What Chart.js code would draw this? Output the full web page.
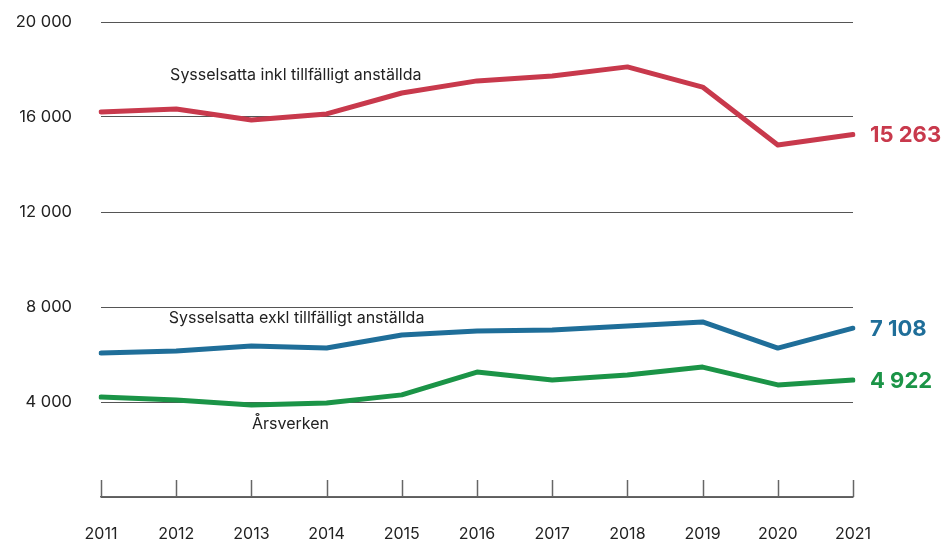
<!DOCTYPE html>
<html><head><meta charset="utf-8">
<script src="https://cdn.jsdelivr.net/npm/chart.js@4/dist/chart.umd.min.js"></script>
<style>html,body{margin:0;padding:0;background:#fff}#wrap{width:943px;height:542px}</style>
</head><body><div id="wrap"><canvas id="c" width="943" height="542"></canvas></div>
<script>
const years = ['2011','2012','2013','2014','2015','2016','2017','2018','2019','2020','2021'];
const inkl = [16210,16340,15870,16130,17010,17520,17730,18110,17260,14820,15263];
const exkl = [6060,6150,6360,6270,6820,6990,7030,7200,7370,6270,7108];
const arsverken = [4210,4080,3870,3960,4300,5260,4930,5140,5470,4720,4922];
const seriesNames = ['Sysselsatta inkl tillfälligt anställda','Sysselsatta exkl tillfälligt anställda','Årsverken'];
const endLabels = ['15 263','7 108','4 922'];
const colors = ['#c8394c','#1f6e99','#1b9447'];
const FONT = 'Inter, "Noto Sans", sans-serif';

const fmt = v => String(v).replace(/\B(?=(\d{3})+(?!\d))/g, ' ');

const labelPlugin = {
  id: 'labels',
  afterDatasetsDraw(chart) {
    const ctx = chart.ctx, x = chart.scales.x, y = chart.scales.y;
    ctx.save();
    ctx.strokeStyle = '#666'; ctx.lineWidth = 1.5;
    const base = y.getPixelForValue(0);
    years.forEach((_, i) => {
      const px = Math.round(x.getPixelForValue(i)) + 0.5;
      ctx.beginPath(); ctx.moveTo(px, base); ctx.lineTo(px, base - 17); ctx.stroke();
    });
    ctx.fillStyle = '#222';
    ctx.font = '16px ' + FONT;
    ctx.textAlign = 'center'; ctx.textBaseline = 'middle';
    const anchors = [[2.59, 17770], [2.6, 7540], [2.52, 3070]];
    seriesNames.forEach((n, i) => {
      ctx.fillText(n, x.getPixelForValue(anchors[i][0]), y.getPixelForValue(anchors[i][1]));
    });
    ctx.textAlign = 'left';
    ctx.font = 'bold 22px ' + FONT;
    chart.data.datasets.forEach((ds, i) => {
      const last = ds.data.length - 1;
      ctx.fillStyle = colors[i];
      ctx.fillText(endLabels[i], x.getPixelForValue(last) + 17, y.getPixelForValue(ds.data[last]) + 1);
    });
    ctx.restore();
  }
};

new Chart(document.getElementById('c'), {
  type: 'line',
  data: {
    labels: years,
    datasets: [inkl, exkl, arsverken].map((d, i) => ({
      label: seriesNames[i], data: d, borderColor: colors[i], borderWidth: 5,
      pointRadius: 0, tension: 0, fill: false, borderCapStyle: 'round', borderJoinStyle: 'round'
    }))
  },
  options: {
    responsive: false, animation: false, devicePixelRatio: 1,
    layout: { padding: { top: 22, right: 90, left: 0, bottom: 0 } },
    plugins: { legend: { display: false }, tooltip: { enabled: false } },
    scales: {
      x: {
        offset: false,
        grid: { display: false },
        border: { display: true, color: '#666', width: 1.5 },
        ticks: { color: '#222', font: { family: FONT, size: 16 }, padding: 20, maxRotation: 0, autoSkip: false },
        afterFit(s) { s.height = 45; s.paddingLeft = 0; s.paddingRight = 0; }
      },
      y: {
        min: 0, max: 20000,
        grid: { color: '#555', lineWidth: 1, drawTicks: false },
        border: { display: false },
        ticks: {
          stepSize: 4000, color: '#222', padding: 29,
          font: { family: FONT, size: 16.5 },
          callback: v => v === 0 ? '' : fmt(v)
        },
        afterFit(s) { s.width = 101; s.paddingTop = 0; s.paddingBottom = 0; }
      }
    }
  },
  plugins: [labelPlugin]
});
</script></body></html>
